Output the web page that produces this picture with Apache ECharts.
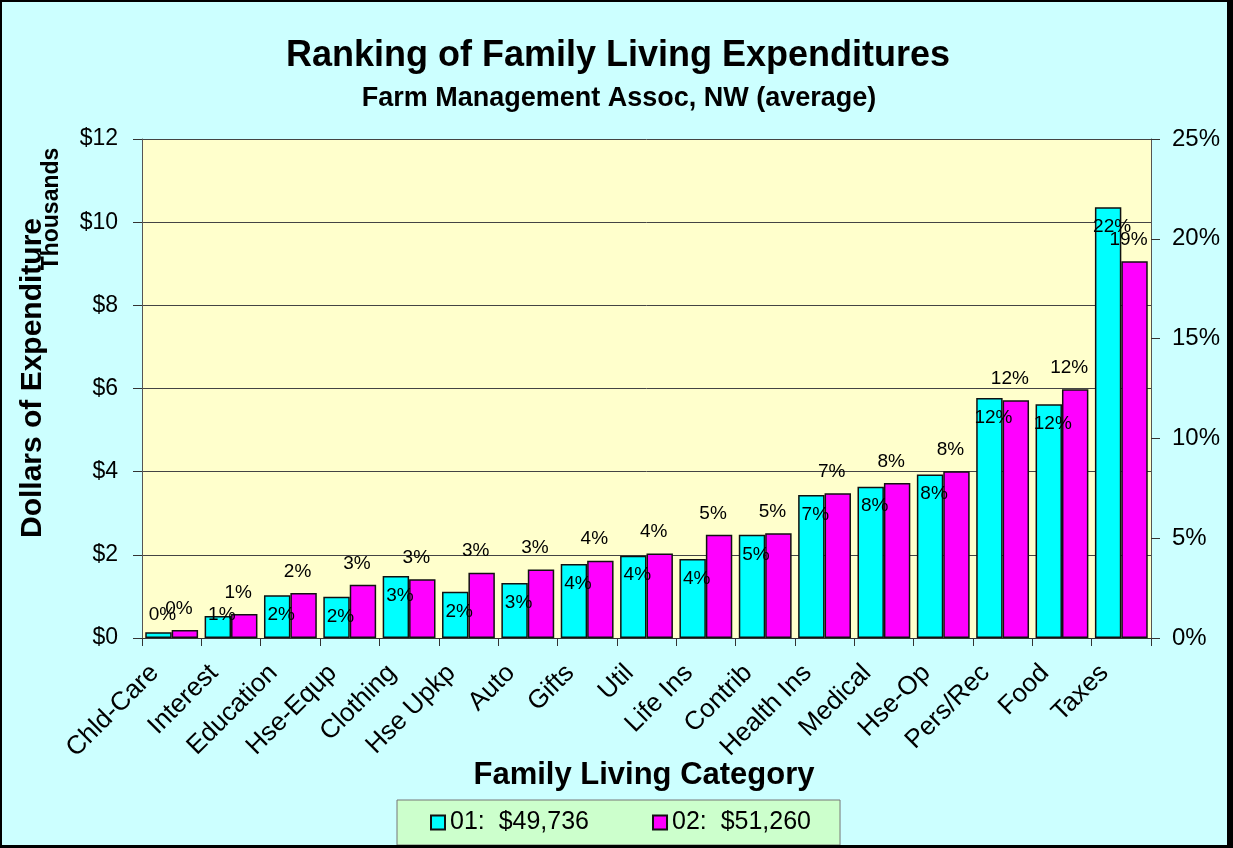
<!DOCTYPE html>
<html>
<head>
<meta charset="utf-8">
<title>Ranking of Family Living Expenditures</title>
<script src="https://cdn.jsdelivr.net/npm/echarts@6/dist/echarts.min.js"></script>
<style>
  html, body { margin: 0; padding: 0; background: #000; }
  #chart { width: 1233px; height: 848px; }
</style>
</head>
<body>
<div id="chart"></div>
<script>
// categories, sorted by 02 spending
var categories = ['Chld-Care', 'Interest', 'Education', 'Hse-Equp', 'Clothing', 'Hse Upkp', 'Auto', 'Gifts',
    'Util', 'Life Ins', 'Contrib', 'Health Ins', 'Medical', 'Hse-Op', 'Pers/Rec', 'Food', 'Taxes'];

// dollars, thousands
var cost01 = [0.14, 0.53, 1.03, 0.99, 1.49, 1.11, 1.32, 1.78, 1.98, 1.90, 2.48, 3.44, 3.64, 3.93, 5.77, 5.62, 10.36];
var cost02 = [0.19, 0.58, 1.08, 1.28, 1.41, 1.57, 1.65, 1.86, 2.03, 2.48, 2.52, 3.48, 3.73, 4.01, 5.72, 5.98, 9.06];

// share of total, percent
var pct01 = [0, 1, 2, 2, 3, 2, 3, 4, 4, 4, 5, 7, 8, 8, 12, 12, 22];
var pct02 = [0, 1, 2, 3, 3, 3, 3, 4, 4, 5, 5, 7, 8, 8, 12, 12, 19];

var names = ['01:  $49,736', '02:  $51,260'];
var dollarTicks = [0, 2, 4, 6, 8, 10, 12];
var pctTicks = [0, 5, 10, 15, 20, 25];

var FONT = '"Liberation Sans", Arial, sans-serif';

var chart = echarts.init(document.getElementById('chart'));

// short bars get their label lifted off the axis
var data01 = cost01.map(function (v) {
    if (v < 0.6) {
        return { value: v, label: { position: 'insideBottom', distance: 14 } };
    }
    return v;
});

chart.setOption({
    backgroundColor: '#CCFFFF',
    animation: false,
    textStyle: { fontFamily: FONT, color: '#000' },
    color: ['#00FFFF', '#FF00FF'],
    grid: {
        left: 142, right: 82, top: 139, bottom: 210,
        show: true,
        backgroundColor: '#FFFFCC',
        borderWidth: 0
    },
    legend: {
        data: names,
        left: 397, top: 800,
        orient: 'horizontal',
        padding: [10, 29, 10, 33],
        itemGap: 63,
        itemWidth: 14, itemHeight: 14,
        icon: 'rect',
        backgroundColor: '#CCFFCC',
        borderColor: '#777',
        borderWidth: 1,
        borderRadius: 0,
        textStyle: { fontSize: 25, fontFamily: FONT, color: '#000' }
    },
    xAxis: {
        type: 'category',
        data: categories,
        axisLine: { lineStyle: { color: '#333', width: 1 } },
        axisTick: { show: true, length: 8, lineStyle: { color: '#333' } },
        axisLabel: {
            rotate: 45,
            fontSize: 26,
            fontFamily: FONT,
            color: '#000',
            margin: 14,
            padding: [0, 24, 0, 0],
            interval: 0
        }
    },
    yAxis: [
        {
            type: 'value',
            min: dollarTicks[0],
            max: dollarTicks[dollarTicks.length - 1],
            interval: 2,
            axisLine: { show: true, lineStyle: { color: '#555' } },
            axisTick: { show: true, length: 9, lineStyle: { color: '#333' } },
            axisLabel: {
                fontSize: 23, fontFamily: FONT, color: '#000', margin: 24,
                formatter: function (v) { return '$' + v; }
            },
            splitLine: { show: true, lineStyle: { color: '#444', width: 1 } }
        },
        {
            type: 'value',
            position: 'right',
            min: pctTicks[0],
            max: pctTicks[pctTicks.length - 1],
            interval: 5,
            axisLine: { show: true, lineStyle: { color: '#555' } },
            axisTick: { show: true, length: 9, lineStyle: { color: '#333' } },
            axisLabel: {
                fontSize: 24, fontFamily: FONT, color: '#000', margin: 21,
                formatter: function (v) { return v + '%'; }
            },
            splitLine: { show: false }
        }
    ],
    series: [
        {
            name: names[0],
            type: 'bar',
            data: data01,
            barGap: '0%',
            barCategoryGap: '11%',
            itemStyle: { color: '#00FFFF', borderColor: '#111', borderWidth: 1.5 },
            label: {
                show: true,
                position: 'insideTop',
                distance: 10,
                offset: [4, 0],
                fontSize: 19,
                fontFamily: FONT,
                color: '#000',
                formatter: function (p) { return pct01[p.dataIndex] + '%'; }
            }
        },
        {
            name: names[1],
            type: 'bar',
            data: cost02,
            barGap: '0%',
            barCategoryGap: '11%',
            itemStyle: { color: '#FF00FF', borderColor: '#111', borderWidth: 1.5 },
            label: {
                show: true,
                position: 'top',
                distance: 12,
                offset: [-6, 0],
                fontSize: 19,
                fontFamily: FONT,
                color: '#000',
                formatter: function (p) { return pct02[p.dataIndex] + '%'; }
            }
        }
    ],
    graphic: [
        {
            type: 'text', x: 618, y: 56,
            style: { text: 'Ranking of Family Living Expenditures', font: 'bold 36px ' + FONT,
                fill: '#000', align: 'center', verticalAlign: 'middle' }
        },
        {
            type: 'text', x: 619, y: 99,
            style: { text: 'Farm Management Assoc, NW (average)', font: 'bold 27px ' + FONT,
                fill: '#000', align: 'center', verticalAlign: 'middle' }
        },
        {
            type: 'text', x: 33, y: 378, rotation: Math.PI / 2,
            style: { text: 'Dollars of Expenditure', font: 'bold 30px ' + FONT,
                fill: '#000', align: 'center', verticalAlign: 'middle' }
        },
        {
            type: 'text', x: 52, y: 209, rotation: Math.PI / 2,
            style: { text: 'Thousands', font: 'bold 23px ' + FONT,
                fill: '#000', align: 'center', verticalAlign: 'middle' }
        },
        {
            type: 'text', x: 644, y: 775,
            style: { text: 'Family Living Category', font: 'bold 31px ' + FONT,
                fill: '#000', align: 'center', verticalAlign: 'middle' }
        },
        // chart frame
        { type: 'rect', z: 100, shape: { x: 0, y: 0, width: 1233, height: 2 }, style: { fill: '#000' } },
        { type: 'rect', z: 100, shape: { x: 0, y: 0, width: 2, height: 848 }, style: { fill: '#000' } },
        { type: 'rect', z: 100, shape: { x: 1227, y: 0, width: 6, height: 848 }, style: { fill: '#000' } },
        { type: 'rect', z: 100, shape: { x: 0, y: 845, width: 1233, height: 3 }, style: { fill: '#000' } }
    ]
});
</script>
</body>
</html>
